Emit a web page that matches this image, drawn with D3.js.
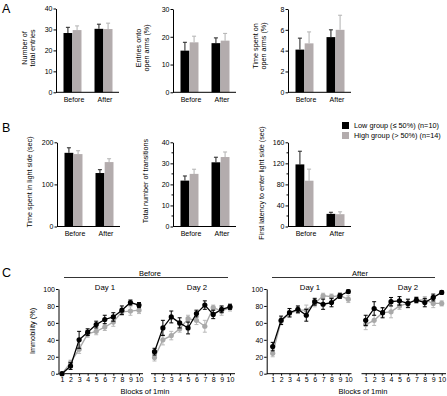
<!DOCTYPE html>
<html>
<head>
<meta charset="utf-8">
<script src="https://cdn.jsdelivr.net/npm/d3@7"></script>
<style>
  body { margin: 0; background: #fff; }
  svg { display: block; font-family: "Liberation Sans", Arial, sans-serif; }
  .axis path, .axis line { stroke: #000; stroke-width: 1; }
  .axis text { font-size: 7px; fill: #000; }
</style>
</head>
<body>
<div id="chart"></div>
<script>
// ---- data ----
const groups = ["Before", "After"];
const seriesNames = ["Low group (≤ 50%) (n=10)", "High group (> 50%) (n=14)"];

// bar panels: [Before, After] means and sem per group
const entriesLow = [28.3, 30.3], entriesLowSem = [2.7, 2.2];
const entriesHigh = [29.7, 30.2], entriesHighSem = [2.0, 2.8];
const openEntriesLow = [15.0, 17.7], openEntriesLowSem = [3.0, 1.9];
const openEntriesHigh = [18.0, 18.6], openEntriesHighSem = [2.2, 2.6];
const openTimeLow = [4.1, 5.3], openTimeLowSem = [1.1, 0.7];
const openTimeHigh = [4.7, 6.0], openTimeHighSem = [1.1, 1.4];
const lightTimeLow = [175, 127], lightTimeLowSem = [12, 8];
const lightTimeHigh = [172, 153], lightTimeHighSem = [8, 8];
const transLow = [21.8, 30.5], transLowSem = [2.2, 2.4];
const transHigh = [25.0, 33.0], transHighSem = [2.2, 2.4];
const latencyLow = [118, 24], latencyLowSem = [25, 3];
const latencyHigh = [87, 23.4], latencyHighSem = [22, 4.5];

// immobility, blocks of 1 min
const blocks = [1, 2, 3, 4, 5, 6, 7, 8, 9, 10];
const befD1Low = [0, 9, 40, 49, 58, 64, 67, 75, 84, 81];
const befD1LowSem = [1, 4, 10, 4, 4, 5, 5, 5, 3, 3];
const befD1High = [0, 13, 29, 47, 50, 55, 61, 73, 74, 75];
const befD1HighSem = [1, 3, 5, 4, 4, 4, 5, 4, 5, 4];
const befD2Low = [26, 54, 67, 60, 54, 71, 81, 70, 76, 79];
const befD2LowSem = [4, 9, 7, 6, 7, 4, 5, 5, 4, 3];
const befD2High = [19, 40, 45, 53, 65, 63, 56, 78, 74, 78];
const befD2HighSem = [4, 6, 5, 4, 4, 5, 7, 3, 5, 4];
const aftD1Low = [32, 63, 72, 76, 69, 85, 82, 84, 92, 97];
const aftD1LowSem = [5, 5, 5, 4, 7, 4, 6, 5, 3, 2];
const aftD1High = [24, 62, 71, 75, 75, 83, 92, 91, 92, 88];
const aftD1HighSem = [4, 4, 4, 4, 6, 4, 3, 3, 3, 4];
const aftD2Low = [63, 77, 72, 85, 86, 83, 87, 84, 90, 96];
const aftD2LowSem = [6, 8, 6, 5, 5, 5, 3, 5, 4, 2];
const aftD2High = [58, 63, 72, 73, 80, 83, 87, 87, 83, 83];
const aftD2HighSem = [6, 6, 5, 7, 4, 4, 4, 4, 5, 3];

const colLow = "#000000";
const colHigh = "#b3acad";
const colHighErr = "#b8b8b8";
const colHighPt = "#a9a9a9";

const svg = d3.select("#chart").append("svg")
  .attr("width", 447).attr("height", 396);

// panel letters
[["A", 2, 13], ["B", 2, 132], ["C", 2, 277]].forEach(([t, x, y]) => {
  svg.append("text").attr("x", x).attr("y", y)
    .attr("font-size", 12.5).text(t);
});

const barChart = (cfg) => {
  const g = svg.append("g");
  const y = d3.scaleLinear().domain([0, cfg.max]).range([cfg.bottom, cfg.top]);
  const x = d3.scaleBand().domain(groups)
    .range([cfg.x0 + 7.5, cfg.x0 + 56.5]).paddingInner(0.42);
  const xs = d3.scaleBand().domain([0, 1]).range([0, x.bandwidth()]).paddingInner(0.04);

  const rows = [];
  groups.forEach((grp, i) => {
    rows.push({grp, s: 0, v: cfg.low[i], e: cfg.lowSem[i]});
    rows.push({grp, s: 1, v: cfg.high[i], e: cfg.highSem[i]});
  });

  const bx = d => x(d.grp) + xs(d.s);
  // error bars (up only)
  g.selectAll("line.err").data(rows).enter().append("line")
    .attr("x1", d => bx(d) + xs.bandwidth() / 2)
    .attr("x2", d => bx(d) + xs.bandwidth() / 2)
    .attr("y1", d => y(d.v)).attr("y2", d => y(d.v + d.e))
    .attr("stroke", d => d.s ? colHighErr : "#333").attr("stroke-width", 1.1);
  g.selectAll("line.cap").data(rows).enter().append("line")
    .attr("x1", d => bx(d) + xs.bandwidth() / 2 - 2)
    .attr("x2", d => bx(d) + xs.bandwidth() / 2 + 2)
    .attr("y1", d => y(d.v + d.e)).attr("y2", d => y(d.v + d.e))
    .attr("stroke", d => d.s ? colHighErr : "#333").attr("stroke-width", 1.1);
  g.selectAll("rect").data(rows).enter().append("rect")
    .attr("x", bx).attr("width", xs.bandwidth())
    .attr("y", d => y(d.v)).attr("height", d => cfg.bottom - y(d.v))
    .attr("fill", d => d.s ? colHigh : colLow);

  const ya = d3.axisLeft(y).tickValues(cfg.ticks).tickSize(2.5).tickSizeOuter(0).tickPadding(1);
  g.append("g").attr("class", "axis").attr("transform", `translate(${cfg.x0},0)`).call(ya);
  if (cfg.minor) {
    g.append("g").selectAll("line").data(cfg.minor).enter().append("line")
      .attr("x1", cfg.x0 - 1.5).attr("x2", cfg.x0)
      .attr("y1", d => y(d)).attr("y2", d => y(d)).attr("stroke", "#000");
  }
  g.append("line").attr("x1", cfg.x0).attr("x2", cfg.x0 + 63)
    .attr("y1", cfg.bottom).attr("y2", cfg.bottom).attr("stroke", "#000");
  const xa = d3.axisBottom(x).tickSize(0).tickSizeOuter(0).tickPadding(4.5);
  const xg = g.append("g").attr("class", "axis").attr("transform", `translate(0,${cfg.bottom})`).call(xa);
  xg.select(".domain").remove();
  xg.selectAll("text").attr("font-size", 7.5).attr("dx", 1.5);

  const lab = g.append("text").attr("font-size", 7.2).attr("text-anchor", "middle")
    .attr("transform", `translate(${cfg.lx},${cfg.ly}) rotate(-90)`);
  cfg.label.forEach((t, i) => {
    lab.append("tspan").attr("x", 0).attr("dy", i ? 8 : 0).text(t);
  });
};

barChart({x0: 56, top: 8.5, bottom: 92.3, max: 40, ticks: [0, 10, 20, 30, 40],
  low: entriesLow, lowSem: entriesLowSem, high: entriesHigh, highSem: entriesHighSem,
  lx: 27, ly: 48, label: ["Number of", "total entries"]});
barChart({x0: 173, top: 9, bottom: 92.3, max: 30, ticks: [0, 10, 20, 30],
  low: openEntriesLow, lowSem: openEntriesLowSem, high: openEntriesHigh, highSem: openEntriesHighSem,
  lx: 141, ly: 48, label: ["Entries onto", "open arms (%)"]});
barChart({x0: 288, top: 9, bottom: 92.3, max: 8, ticks: [0, 2, 4, 6, 8],
  low: openTimeLow, lowSem: openTimeLowSem, high: openTimeHigh, highSem: openTimeHighSem,
  lx: 258, ly: 46, label: ["Time spent on", "open arms (%)"]});

barChart({x0: 57, top: 142.3, bottom: 226.5, max: 200, ticks: [0, 100, 200],
  low: lightTimeLow, lowSem: lightTimeLowSem, high: lightTimeHigh, highSem: lightTimeHighSem,
  lx: 32, ly: 182, label: ["Time spent in light side (sec)"]});
barChart({x0: 173, top: 142.3, bottom: 226.5, max: 40, ticks: [0, 10, 20, 30, 40],
  minor: [5, 15, 25, 35],
  low: transLow, lowSem: transLowSem, high: transHigh, highSem: transHighSem,
  lx: 148, ly: 181, label: ["Total number of transitions"]});
barChart({x0: 288, top: 142.3, bottom: 226.5, max: 160, ticks: [0, 40, 80, 120, 160],
  minor: [20, 60, 100, 140],
  low: latencyLow, lowSem: latencyLowSem, high: latencyHigh, highSem: latencyHighSem,
  lx: 264, ly: 183, label: ["First latency to enter light side (sec)"]});

// legend
const leg = svg.append("g").attr("transform", "translate(342,122)");
seriesNames.forEach((n, i) => {
  leg.append("rect").attr("x", 0).attr("y", i * 10).attr("width", 7).attr("height", 7)
    .attr("fill", i ? colHigh : colLow);
  leg.append("text").attr("x", 12).attr("y", i * 10 + 6.3).attr("font-size", 7.3).text(n);
});

// ---- panel C ----
const yC = d3.scaleLinear().domain([0, 100]).range([373.7, 289]);

const lineChart = (g, x, low, lowSem, high, highSem) => {
  const line = d3.line().x((d, i) => x(blocks[i])).y(d => yC(d));
  [[high, highSem, colHighPt, colHighErr], [low, lowSem, colLow, colLow]].forEach(([vals, sem, c, ce]) => {
    g.append("path").datum(vals).attr("d", line)
      .attr("fill", "none").attr("stroke", c).attr("stroke-width", 1.3);
    const pts = vals.map((v, i) => ({b: blocks[i], v, e: sem[i]}));
    g.selectAll(null).data(pts).enter().append("line")
      .attr("x1", d => x(d.b)).attr("x2", d => x(d.b))
      .attr("y1", d => yC(d.v - d.e)).attr("y2", d => yC(Math.min(100, d.v + d.e)))
      .attr("stroke", ce).attr("stroke-width", 1);
    [-1, 1].forEach(sg => {
      g.selectAll(null).data(pts).enter().append("line")
        .attr("x1", d => x(d.b) - 2).attr("x2", d => x(d.b) + 2)
        .attr("y1", d => yC(d.v + sg * d.e)).attr("y2", d => yC(d.v + sg * d.e))
        .attr("stroke", ce).attr("stroke-width", 1);
    });
    g.selectAll(null).data(pts).enter().append("circle")
      .attr("cx", d => x(d.b)).attr("cy", d => yC(d.v)).attr("r", 2.6)
      .attr("fill", c);
  });
};

const xAxisC = (x, x1, x2) => {
  const g = svg.append("g").attr("class", "axis").attr("transform", "translate(0,373.7)");
  g.call(d3.axisBottom(x).tickSize(2).tickSizeOuter(0).tickPadding(1.5));
  g.select(".domain").remove();
  g.append("line").attr("x1", x1).attr("x2", x2).attr("y1", 0).attr("y2", 0);
  g.selectAll("text").attr("font-size", 7.3);
};

const cPanels = [
  {ax: 58.5, d1: [62, 139], d2: [154.5, 230], l1: [58.5, 143], l2: [151, 235],
   data: [[befD1Low, befD1LowSem, befD1High, befD1HighSem], [befD2Low, befD2LowSem, befD2High, befD2HighSem]],
   title: "Before", bracket: [64, 228], tx: 150, day: [105, 197], bx: 145},
  {ax: 266.7, d1: [272.7, 348.3], d2: [365.7, 441.7], l1: [266.7, 351.5], l2: [361.5, 446],
   data: [[aftD1Low, aftD1LowSem, aftD1High, aftD1HighSem], [aftD2Low, aftD2LowSem, aftD2High, aftD2HighSem]],
   title: "After", bracket: [272, 435], tx: 360, day: [310, 408], bx: 363}
];

cPanels.forEach(p => {
  const x1 = d3.scalePoint().domain(blocks).range(p.d1);
  const x2 = d3.scalePoint().domain(blocks).range(p.d2);
  svg.append("g").attr("class", "axis").attr("transform", `translate(${p.ax},0)`)
    .call(d3.axisLeft(yC).tickValues([0, 20, 40, 60, 80, 100]).tickSize(2.5).tickSizeOuter(0).tickPadding(1));
  xAxisC(x1, p.l1[0], p.l1[1]);
  xAxisC(x2, p.l2[0], p.l2[1]);
  lineChart(svg.append("g"), x1, ...p.data[0]);
  lineChart(svg.append("g"), x2, ...p.data[1]);

  svg.append("line").attr("x1", p.bracket[0]).attr("x2", p.bracket[1])
    .attr("y1", 277.5).attr("y2", 277.5).attr("stroke", "#000").attr("stroke-width", 0.8);
  svg.append("text").attr("x", p.tx).attr("y", 275.5).attr("text-anchor", "middle")
    .attr("font-size", 7.5).text(p.title);
  ["Day 1", "Day 2"].forEach((t, i) => {
    svg.append("text").attr("x", p.day[i]).attr("y", 290).attr("text-anchor", "middle")
      .attr("font-size", 7.8).text(t);
  });
  svg.append("text").attr("x", p.bx).attr("y", 394).attr("text-anchor", "middle")
    .attr("font-size", 7.5).text("Blocks of 1min");
});

svg.append("text").attr("font-size", 7.3).attr("text-anchor", "middle")
  .attr("transform", "translate(35,331) rotate(-90)").text("Immobility (%)");
</script>
</body>
</html>
